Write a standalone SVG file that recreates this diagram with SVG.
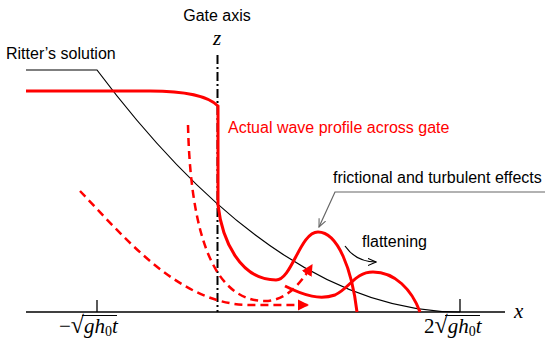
<svg xmlns="http://www.w3.org/2000/svg" width="550" height="344" viewBox="0 0 550 344">
<style>
.lbl{font-family:"Liberation Sans",Arial,sans-serif;font-size:16px;fill:#000}
.red{fill:#ff0000}
.math{font-family:"Liberation Serif","Times New Roman",serif;font-size:21px;font-style:italic;fill:#000}
.sol{fill:none;stroke:#ff0000;stroke-width:3}
.dash{fill:none;stroke:#ff0000;stroke-width:2.5;stroke-dasharray:8 5}
</style>
<defs>
<marker id="rtri" viewBox="0 0 10 10" refX="9" refY="5" markerWidth="4.6" markerHeight="4.6" orient="auto" markerUnits="strokeWidth">
<path d="M0,0 L10,5 L0,10 z" fill="#ff0000"/>
</marker>
<marker id="openG" viewBox="0 0 10 10" refX="9" refY="5" markerWidth="9" markerHeight="9" orient="auto" markerUnits="userSpaceOnUse">
<path d="M0,1 L9,5 L0,9" fill="none" stroke="#666" stroke-width="1.2"/>
</marker>
<marker id="openK" viewBox="0 0 10 10" refX="9" refY="5" markerWidth="9" markerHeight="9" orient="auto" markerUnits="userSpaceOnUse">
<path d="M0,1 L9,5 L0,9" fill="none" stroke="#000" stroke-width="1.2"/>
</marker>
</defs>
<rect width="550" height="344" fill="#fff"/>

<g id="axes">
<line x1="26" y1="312" x2="505" y2="312" stroke="#000" stroke-width="1.5"/>
<line x1="97" y1="300" x2="97" y2="312" stroke="#000" stroke-width="1.3"/>
<line x1="460" y1="299" x2="460" y2="312" stroke="#000" stroke-width="1.3"/>
<text class="math" x="514" y="318">x</text>
<text class="math" x="59" y="333"><tspan font-style="normal">−</tspan><tspan font-style="normal" font-size="24">√</tspan>gh<tspan font-size="14" font-style="normal" dy="3">0</tspan><tspan dy="-3">t</tspan></text>
<line x1="82" y1="315.5" x2="117" y2="315.5" stroke="#000" stroke-width="1"/>
<text class="math" x="424" y="333"><tspan font-style="normal">2</tspan><tspan font-style="normal" font-size="24">√</tspan>gh<tspan font-size="14" font-style="normal" dy="3">0</tspan><tspan dy="-3">t</tspan></text>
<line x1="445" y1="315.5" x2="480" y2="315.5" stroke="#000" stroke-width="1"/>
</g>

<g id="gate-axis">
<line x1="217.5" y1="55" x2="217.5" y2="312" stroke="#000" stroke-width="2" stroke-dasharray="9 3 2 3"/>
<text class="math" x="217" y="45" text-anchor="middle">z</text>
<text class="lbl" x="217" y="21" text-anchor="middle">Gate axis</text>
</g>

<g id="ritter">
<path d="M26,70 H97 Q278.5,312 460,312" fill="none" stroke="#000" stroke-width="1.2"/>
<text class="lbl" x="6" y="59">Ritter’s solution</text>
</g>

<g id="actual-profile">
<path class="sol" d="M26,91 H150 C188,91 208,96 218,106 V205 C222,240 240,280 276,280 C292,280 300,232 318,232 C338,232 352,270 357,312"/>
<text class="lbl red" x="228" y="133">Actual wave profile across gate</text>
</g>

<g id="flattened">
<path class="sol" d="M285,286 C305,296 320,300 335,295 C350,288 355,272 373,272 C395,272 412,290 420,312"/>
</g>

<g id="connectors">
<path class="dash" d="M80,191 C125,238 180,305 250,305 H308" marker-end="url(#rtri)"/>
<path class="dash" d="M188,125 C190,210 205,301 265,301 C285,301 300,285 312,265" marker-end="url(#rtri)"/>
<path d="M545,192 H335 L319,227" fill="none" stroke="#666" stroke-width="1.2" marker-end="url(#openG)"/>
<path d="M345,246 C352,256 362,262 376,262" fill="none" stroke="#000" stroke-width="1.2" marker-end="url(#openK)"/>
</g>

<g id="labels">
<text class="lbl" x="333" y="183">frictional and turbulent effects</text>
<text class="lbl" x="362" y="247">flattening</text>
</g>
</svg>
